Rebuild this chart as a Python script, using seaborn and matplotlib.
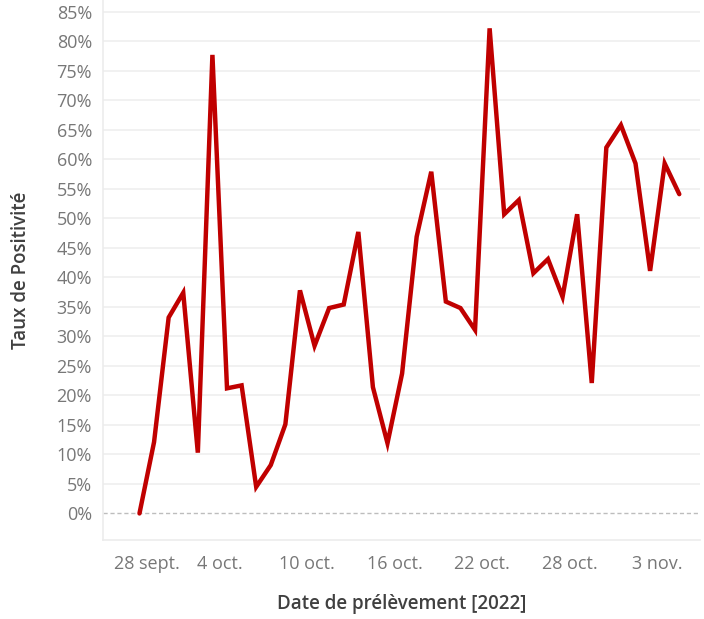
import numpy as np
import pandas as pd
import matplotlib
matplotlib.use('Agg')
import matplotlib.pyplot as plt
import matplotlib.transforms as mtransforms
import seaborn as sns

# Data (daily positivity rate, %)
dates = pd.date_range('2022-09-28 12:00', periods=38, freq='D')
taux = [0.0, 12.1, 33.2, 37.4, 10.3, 77.7, 21.2, 21.7, 4.5, 8.2,
        15.1, 37.8, 28.4, 34.8, 35.4, 47.7, 21.4, 11.9, 23.7, 46.9,
        57.9, 35.9, 34.8, 31.1, 82.2, 50.7, 53.1, 40.7, 43.1, 36.7,
        50.7, 22.1, 62.0, 65.8, 59.3, 41.1, 59.3, 54.1]
tick_dates = pd.to_datetime(['2022-09-28', '2022-10-04', '2022-10-10', '2022-10-16',
                             '2022-10-22', '2022-10-28', '2022-11-03'])
tick_labels = ['28 sept.', '4 oct.', '10 oct.', '16 oct.', '22 oct.', '28 oct.', '3 nov.']
y_ticks = list(range(0, 90, 5))

df = pd.DataFrame({'date': dates, 'taux': taux})

sns.set_style('white')
plt.rcParams['font.family'] = ['Open Sans', 'DejaVu Sans']

fig = plt.figure(figsize=(7.04, 6.19), dpi=100)
ax = fig.add_axes([103/704, 79/619, 597/704, 540/619])

sns.lineplot(data=df, x='date', y='taux', ax=ax, color='#c00000', linewidth=3.2,
             solid_joinstyle='miter', solid_capstyle='round')

# gridlines
for v in y_ticks[1:]:
    ax.axhline(v, color='#f0f0f0', linewidth=1.3, zorder=0)
ax.axhline(0, color='#bdbdbd', linewidth=1, linestyle=(0, (3, 2)), zorder=1)

ax.set_ylim(-4.5, 87.0)
ax.set_xlim(pd.Timestamp('2022-09-28') - pd.Timedelta(days=1.47),
            pd.Timestamp('2022-09-28') + pd.Timedelta(days=38.92))

ax.set_yticks(y_ticks)
ax.set_yticklabels([f'{v}%' for v in y_ticks])
ax.set_xticks(tick_dates)
ax.set_xticklabels(tick_labels)
ax.set_xticks(pd.date_range('2022-09-26', '2022-11-05', freq='2D'), minor=True)

ax.tick_params(axis='x', which='both', length=7, color='#e6e6e6', width=1,
               labelsize=13, labelcolor='#777777', pad=4)
ax.tick_params(axis='y', length=5, color='#e6e6e6', width=1,
               labelsize=13, labelcolor='#777777', pad=3)

# first label pushed right like the reference
lbl = ax.get_xticklabels()[0]
lbl.set_horizontalalignment('left')
lbl.set_transform(lbl.get_transform() + mtransforms.ScaledTranslation(-0.18, 0, fig.dpi_scale_trans))

for side in ['top', 'right']:
    ax.spines[side].set_visible(False)
ax.spines['left'].set_color('#ececec')
ax.spines['bottom'].set_color('#ececec')
ax.spines['left'].set_linewidth(1.2)
ax.spines['bottom'].set_linewidth(1.2)

ax.set_xlabel('Date de prélèvement [2022]', fontsize=13.5, color='#404040',
              fontweight='semibold', labelpad=15)
ax.set_ylabel('Taux de Positivité', fontsize=13.5, color='#404040',
              fontweight='semibold', labelpad=18)

fig.savefig('out.png', dpi=100)
